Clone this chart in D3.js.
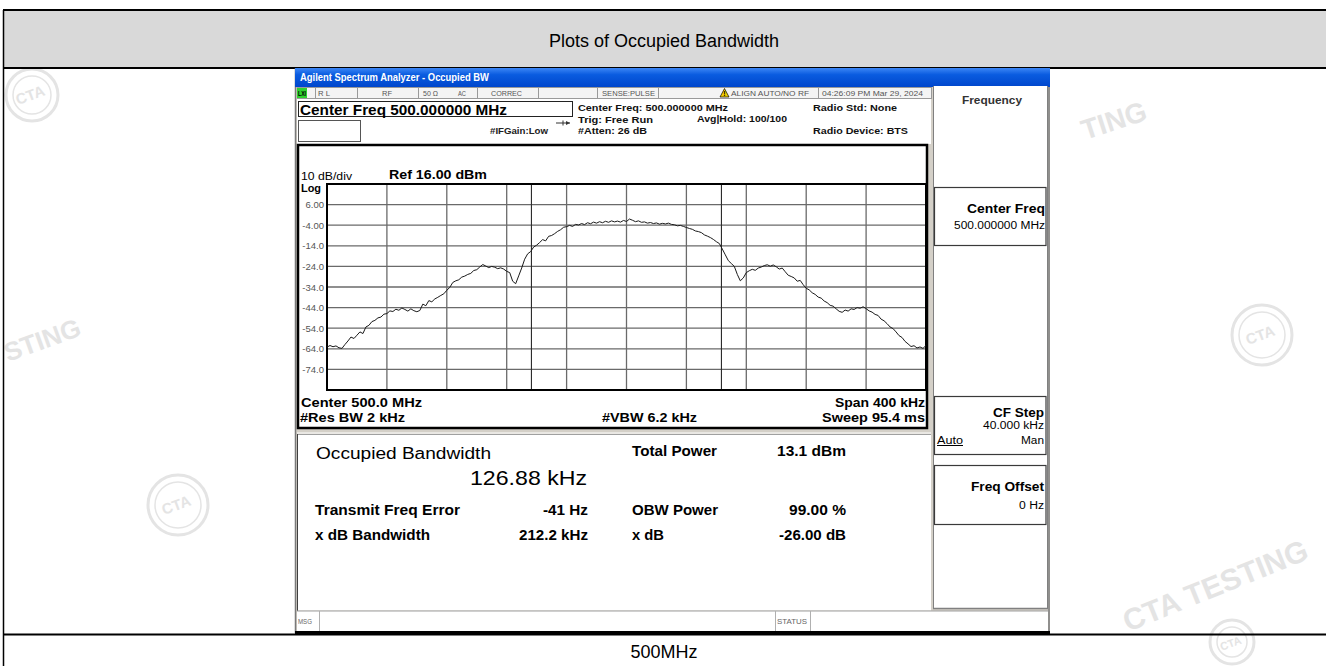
<!DOCTYPE html>
<html>
<head>
<meta charset="utf-8">
<script src="https://cdn.jsdelivr.net/npm/d3@7"></script>
<style>
  html, body { margin: 0; padding: 0; background: #ffffff; }
  svg { display: block; }
</style>
</head>
<body>
<script>
// ---------------- DATA ----------------
const freqOffsetKHz = [
  -200,-198,-196,-194,-192,-190,-188,-186,-184,-182,
  -180,-178,-176,-174,-172,-170,-168,-166,-164,-162,
  -160,-158,-156,-154,-152,-150,-148,-146,-144,-142,
  -140,-138,-136,-134,-132,-130,-128,-126,-124,-122,
  -120,-118,-116,-114,-112,-110,-108,-106,-104,-102,
  -100,-98,-96,-94,-92,-90,-88,-86,-84,-82,
  -80,-78,-76,-74,-72,-70,-68,-66,-64,-62,
  -60,-58,-56,-54,-52,-50,-48,-46,-44,-42,
  -40,-38,-36,-34,-32,-30,-28,-26,-24,-22,
  -20,-18,-16,-14,-12,-10,-8,-6,-4,-2,
  0,2,4,6,8,10,12,14,16,18,
  20,22,24,26,28,30,32,34,36,38,
  40,42,44,46,48,50,52,54,56,58,
  60,62,64,66,68,70,72,74,76,78,
  80,82,84,86,88,90,92,94,96,98,
  100,102,104,106,108,110,112,114,116,118,
  120,122,124,126,128,130,132,134,136,138,
  140,142,144,146,148,150,152,154,156,158,
  160,162,164,166,168,170,172,174,176,178,
  180,182,184,186,188,190,192,194,196,198,
  200];
const traceDbm = [
  -63.2,-62.4,-63.0,-62.6,-63.5,-63.8,-61.9,-60.2,-58.3,-59.0,
  -57.4,-55.8,-56.6,-53.4,-52.6,-50.8,-50.2,-49.0,-48.6,-47.2,
  -46.9,-45.6,-45.9,-44.8,-45.3,-44.2,-44.9,-45.7,-44.6,-45.5,
  -46.0,-45.4,-42.3,-43.1,-40.6,-41.2,-39.8,-39.0,-38.1,-37.3,
  -35.6,-34.2,-31.8,-31.0,-30.5,-29.2,-28.7,-27.9,-27.4,-26.0,
  -25.6,-24.3,-23.1,-23.8,-24.6,-24.0,-24.4,-25.1,-24.7,-25.3,
  -26.4,-27.0,-31.2,-32.4,-28.6,-24.8,-20.5,-17.9,-16.8,-14.6,
  -13.7,-12.4,-11.0,-11.6,-9.4,-9.0,-8.1,-7.0,-6.2,-5.0,
  -4.7,-4.1,-4.6,-3.6,-3.9,-3.2,-3.7,-2.8,-3.3,-2.5,
  -3.0,-2.3,-2.8,-2.1,-2.6,-1.9,-2.4,-2.0,-2.5,-1.7,
  -2.2,-1.0,-1.6,-2.3,-1.9,-2.6,-2.4,-3.0,-2.7,-3.2,
  -2.9,-3.5,-3.1,-3.4,-3.0,-3.6,-3.8,-4.3,-4.1,-4.6,
  -5.1,-5.6,-6.0,-6.8,-7.1,-7.6,-8.7,-9.3,-10.0,-10.9,
  -12.0,-12.9,-15.6,-18.4,-21.2,-22.6,-24.0,-27.9,-31.0,-29.6,
  -27.0,-26.1,-25.4,-25.9,-24.8,-24.3,-23.6,-23.2,-23.9,-23.3,
  -24.2,-25.3,-24.8,-26.6,-28.3,-28.9,-29.6,-31.2,-30.8,-32.9,
  -34.6,-35.4,-36.8,-37.6,-38.9,-39.4,-40.8,-41.6,-42.9,-43.3,
  -44.6,-45.8,-46.3,-45.2,-45.7,-44.6,-44.9,-44.0,-44.3,-43.6,
  -44.5,-45.6,-46.2,-47.3,-47.8,-49.6,-50.4,-51.8,-53.4,-54.2,
  -55.8,-57.6,-58.5,-60.4,-61.6,-62.9,-62.5,-63.6,-63.1,-63.8,
  -62.4];
const yTickValues = [6, -4, -14, -24, -34, -44, -54, -64, -74];
const yTickLabels = ["6.00", "-4.00", "-14.0", "-24.0", "-34.0", "-44.0", "-54.0", "-64.0", "-74.0"];
const xGridKHz = [-160, -120, -80, -40, 0, 40, 80, 120, 160];
const spanKHz = [-200, 200];
const refLevelDbm = 16;
const dbPerDiv = 10;
const obwKHz = 126.88;
const freqErrorKHz = -0.041;

const statusCells = ["R L", "RF", "50 Ω", "AC", "CORREC", "SENSE:PULSE", "ALIGN AUTO/NO RF", "04:26:09 PM Mar 29, 2024"];
const resultLabelsLeft = ["Transmit Freq Error", "x dB Bandwidth"];
const resultValuesLeft = ["-41 Hz", "212.2 kHz"];
const resultLabelsRight = ["Total Power", "OBW Power", "x dB"];
const resultValuesRight = ["13.1 dBm", "99.00 %", "-26.00 dB"];

// ---------------- SETUP ----------------
const W = 1326, H = 666;
const svg = d3.select("body").append("svg").attr("width", W).attr("height", H);
const SANS = "'Liberation Sans', Arial, sans-serif";

function txt(g, x, y, s, o = {}) {
  const t = g.append("text").attr("x", x).attr("y", y).text(s)
    .attr("font-family", o.family || SANS)
    .attr("font-size", o.size || 12)
    .attr("font-weight", o.weight || "normal")
    .attr("fill", o.fill || "#000")
    .attr("text-anchor", o.anchor || "start");
  if (o.len) t.attr("textLength", o.len).attr("lengthAdjust", "spacingAndGlyphs");
  if (o.deco) t.attr("text-decoration", o.deco);
  if (o.rotate) t.attr("transform", `rotate(${o.rotate},${x},${y})`);
  return t;
}
function rect(g, x, y, w, h, fill, stroke, sw) {
  return g.append("rect").attr("x", x).attr("y", y).attr("width", w).attr("height", h)
    .attr("fill", fill || "none").attr("stroke", stroke || "none").attr("stroke-width", sw || 1);
}
function line(g, x1, y1, x2, y2, stroke, sw) {
  return g.append("line").attr("x1", x1).attr("y1", y1).attr("x2", x2).attr("y2", y2)
    .attr("stroke", stroke || "#000").attr("stroke-width", sw || 1);
}

// ---------------- WATERMARKS ----------------
const wm = svg.append("g").attr("fill", "none");
const wmColor = "#e4e4e4";
[[32, 95, 26], [178, 505, 30], [1262, 335, 30], [1232, 642, 22]].forEach(([cx, cy, r]) => {
  wm.append("circle").attr("cx", cx).attr("cy", cy).attr("r", r).attr("stroke", wmColor).attr("stroke-width", 3);
  wm.append("circle").attr("cx", cx).attr("cy", cy).attr("r", r - 7).attr("stroke", wmColor).attr("stroke-width", 1.5);
  txt(wm, cx, cy + 5, "CTA", { size: r > 24 ? 15 : 11, weight: "bold", fill: wmColor, anchor: "middle", rotate: -20 });
});
txt(wm, 50, 38, "CTA TESTI", { size: 18, weight: "bold", fill: wmColor, rotate: -10 });
txt(wm, 1085, 140, "TING", { size: 28, weight: "bold", fill: wmColor, rotate: -18 });
txt(wm, 8, 362, "STING", { size: 26, weight: "bold", fill: wmColor, rotate: -20 });
txt(wm, 1128, 632, "CTA TESTING", { size: 30, weight: "bold", fill: wmColor, rotate: -22 });

// ---------------- OUTER TABLE ----------------
const tbl = svg.append("g");
rect(tbl, 3, 10, W - 3, 58, "#d9d9d9");
line(tbl, 3, 10, W, 10, "#000", 2);
line(tbl, 3.5, 10, 3.5, H, "#000", 1.5);
line(tbl, 3, 68, W, 68, "#000", 2);
line(tbl, 3, 634.5, W, 634.5, "#000", 2);
txt(tbl, 664, 47, "Plots of Occupied Bandwidth", { size: 18, anchor: "middle" });
txt(tbl, 664, 658, "500MHz", { size: 18, anchor: "middle" });

// ---------------- SCREENSHOT FRAME ----------------
const sc = svg.append("g");
rect(sc, 295, 68, 755, 567, "#d4d0c8");
line(sc, 295.5, 68, 295.5, 634, "#7a7a7a", 1.5);
line(sc, 1049, 68, 1049, 634, "#7a7a7a", 1.5);
const defs = svg.append("defs");
const grad = defs.append("linearGradient").attr("id", "xpblue").attr("x1", 0).attr("y1", 0).attr("x2", 0).attr("y2", 1);
grad.append("stop").attr("offset", "0%").attr("stop-color", "#3d86f5");
grad.append("stop").attr("offset", "35%").attr("stop-color", "#0a5ce0");
grad.append("stop").attr("offset", "100%").attr("stop-color", "#0046cc");
rect(sc, 295, 68, 755, 19, "url(#xpblue)");
txt(sc, 300, 81, "Agilent Spectrum Analyzer - Occupied BW", { size: 10.5, weight: "bold", fill: "#fff", len: 189 });

// status row
rect(sc, 297, 87, 634, 12, "#f4f4f4");
const sepX = [315, 357, 418, 477, 538, 597, 658, 818, 931];
sepX.forEach(x => line(sc, x + 0.5, 87, x + 0.5, 99, "#9a9a9a", 1));
line(sc, 297, 87.5, 931, 87.5, "#9a9a9a", 1);
line(sc, 297, 98.5, 931, 98.5, "#9a9a9a", 1);
rect(sc, 297, 88, 10, 10, "#2fd12f");
txt(sc, 298, 96, "LXI", { size: 6.5, weight: "bold", fill: "#000", len: 8 });
const statusX = [318, 382, 423, 458, 491, 602, 731, 822];
const statusLen = [12, 10, 15, 8, 31, 53, 78, 101];
statusCells.forEach((s, i) => {
  txt(sc, statusX[i], 96, s, { size: 8, fill: "#555", len: statusLen[i] });
});
sc.append("path").attr("d", "M720,97 L724.5,88.5 L729,97 Z").attr("fill", "#f5d000").attr("stroke", "#000").attr("stroke-width", 0.7);
txt(sc, 724.5, 96.3, "!", { size: 7, weight: "bold", anchor: "middle" });

// header area
rect(sc, 297, 99, 634, 45, "#ffffff");
rect(sc, 298.5, 101.5, 274, 15, "#fff", "#222", 1);
txt(sc, 300, 114.5, "Center Freq 500.000000 MHz", { size: 15, weight: "bold", len: 207 });
rect(sc, 298.5, 120.5, 62, 21, "#fff", "#555", 1);
txt(sc, 490, 134, "#IFGain:Low", { size: 8.5, weight: "bold", fill: "#222", len: 58 });
line(sc, 556, 123, 570, 123, "#333", 1);
sc.append("path").attr("d", "M570,123 L566,121 L566,125 Z").attr("fill", "#333");
line(sc, 563, 120.5, 563, 125.5, "#333", 1);
const hdrBold = { size: 9.5, weight: "bold", fill: "#111" };
txt(sc, 578, 111, "Center Freq: 500.000000 MHz", { ...hdrBold, len: 150 });
txt(sc, 578, 123, "Trig: Free Run", { ...hdrBold, len: 75 });
txt(sc, 578, 134, "#Atten: 26 dB", { ...hdrBold, len: 69 });
txt(sc, 697, 122, "Avg|Hold: 100/100", { ...hdrBold, len: 90 });
txt(sc, 813, 111, "Radio Std: None", { ...hdrBold, len: 84 });
txt(sc, 813, 134, "Radio Device: BTS", { ...hdrBold, len: 95 });

// ---------------- GRAPH PANEL ----------------
const gp = svg.append("g");
rect(gp, 298, 145, 629, 283, "#ffffff", "#000", 2.5);
txt(gp, 301, 180, "10 dB/div", { size: 10.5, len: 51 });
txt(gp, 389, 179, "Ref 16.00 dBm", { size: 13, weight: "bold", len: 98 });
txt(gp, 301, 191.5, "Log", { size: 10.5, weight: "bold", len: 20 });

const x = d3.scaleLinear().domain(spanKHz).range([327, 926]);
const y = d3.scaleLinear().domain([refLevelDbm - 10 * dbPerDiv, refLevelDbm]).range([390, 184]);

const grid = gp.append("g");
grid.selectAll("line.h").data(yTickValues).join("line").attr("class", "h")
  .attr("x1", x(spanKHz[0])).attr("x2", x(spanKHz[1]))
  .attr("y1", d => y(d)).attr("y2", d => y(d))
  .attr("stroke", "#6a6a6a").attr("stroke-width", 1.3);
grid.selectAll("line.v").data(xGridKHz).join("line").attr("class", "v")
  .attr("x1", d => x(d)).attr("x2", d => x(d))
  .attr("y1", y(refLevelDbm)).attr("y2", y(refLevelDbm - 10 * dbPerDiv))
  .attr("stroke", "#6a6a6a").attr("stroke-width", 1.3);
const obwEdges = [freqErrorKHz - obwKHz / 2, freqErrorKHz + obwKHz / 2];
grid.selectAll("line.obw").data(obwEdges).join("line").attr("class", "obw")
  .attr("x1", d => x(d)).attr("x2", d => x(d))
  .attr("y1", y(refLevelDbm)).attr("y2", y(refLevelDbm - 10 * dbPerDiv))
  .attr("stroke", "#2a2a2a").attr("stroke-width", 1.1);

const yAxis = d3.axisLeft(y).tickValues(yTickValues).tickSize(0)
  .tickFormat((d, i) => yTickLabels[i]);
const ya = gp.append("g").attr("transform", "translate(324,0)").call(yAxis);
ya.select(".domain").remove();
ya.selectAll("text").attr("font-family", SANS).attr("font-size", 9.5).attr("fill", "#555").attr("x", 0);

rect(gp, 327, 184, 599, 206, "none", "#000", 2);

const traceLine = d3.line().x((d, i) => x(freqOffsetKHz[i])).y(d => y(d));
gp.append("path").attr("d", traceLine(traceDbm))
  .attr("fill", "none").attr("stroke", "#1a1a1a").attr("stroke-width", 1).attr("stroke-linejoin", "miter");

const lb = { size: 13, weight: "bold" };
txt(gp, 301, 407, "Center  500.0 MHz", { ...lb, len: 121 });
txt(gp, 300, 422, "#Res BW  2 kHz", { ...lb, len: 105 });
txt(gp, 602, 422, "#VBW  6.2 kHz", { ...lb, len: 95 });
txt(gp, 925, 407, "Span 400 kHz", { ...lb, anchor: "end", len: 90 });
txt(gp, 925, 422, "Sweep  95.4 ms", { ...lb, anchor: "end", len: 103 });

// ---------------- RESULT PANEL ----------------
const rp = svg.append("g");
line(rp, 297, 433, 931, 433, "#ffffff", 1);
rect(rp, 297, 434.5, 634, 176, "#ffffff");
line(rp, 297, 434.5, 931, 434.5, "#a0a0a0", 1);
line(rp, 297.5, 434, 297.5, 611, "#404040", 1);
txt(rp, 316, 459, "Occupied Bandwidth", { size: 16, len: 175 });
txt(rp, 587, 485, "126.88 kHz", { size: 21, anchor: "end", len: 117 });
const rl = { size: 14, weight: "bold" };
const rowY = [515, 540];
resultLabelsLeft.forEach((s, i) => txt(rp, 315, rowY[i], s, { ...rl, len: [145, 115][i] }));
resultValuesLeft.forEach((s, i) => txt(rp, 588, rowY[i], s, { ...rl, anchor: "end", len: [45, 69][i] }));
const rowY2 = [456, 515, 540];
resultLabelsRight.forEach((s, i) => txt(rp, 632, rowY2[i], s, { ...rl, len: [85, 86, 32][i] }));
resultValuesRight.forEach((s, i) => txt(rp, 846, rowY2[i], s, { ...rl, anchor: "end", len: [69, 57, 67][i] }));

rect(rp, 297, 611, 751, 20, "#ffffff");
line(rp, 297, 611, 1048, 611, "#a0a0a0", 1);
[319, 775, 810].forEach(xx => line(rp, xx + 0.5, 611, xx + 0.5, 631, "#b0b0b0", 1));
txt(rp, 298, 624, "MSG", { size: 7, fill: "#666", len: 14 });
txt(rp, 777, 624, "STATUS", { size: 7, fill: "#666", len: 30 });
rect(rp, 295, 631, 755, 4, "#000");

// ---------------- SOFT KEY PANEL ----------------
const sk = svg.append("g");
rect(sk, 933, 86, 115, 523, "#ffffff");
line(sk, 933.5, 86, 933.5, 609, "#808080", 1);
line(sk, 1047.5, 86, 1047.5, 609, "#808080", 1);
line(sk, 933, 608.5, 1048, 608.5, "#808080", 1.5);
txt(sk, 992, 104, "Frequency", { size: 10.5, weight: "bold", fill: "#333", anchor: "middle", len: 60 });
const keyBoxes = [[187, 58], [396, 58], [465, 59]];
keyBoxes.forEach(([yy, hh]) => rect(sk, 934.5, yy + 0.5, 111.5, hh, "#fff", "#3a3a3a", 1.2));
txt(sk, 1045, 213, "Center Freq", { size: 12, weight: "bold", anchor: "end", len: 78 });
txt(sk, 1045, 229, "500.000000 MHz", { size: 10, anchor: "end", len: 91 });
txt(sk, 1044, 417, "CF Step", { size: 12, weight: "bold", anchor: "end", len: 51 });
txt(sk, 1044, 429, "40.000 kHz", { size: 10, anchor: "end", len: 61 });
txt(sk, 937, 444, "Auto", { size: 10, deco: "underline", len: 26 });
txt(sk, 1044, 444, "Man", { size: 10, anchor: "end", len: 23 });
txt(sk, 1044, 491, "Freq Offset", { size: 12, weight: "bold", anchor: "end", len: 73 });
txt(sk, 1044, 509, "0 Hz", { size: 10, anchor: "end", len: 25 });
</script>
</body>
</html>
